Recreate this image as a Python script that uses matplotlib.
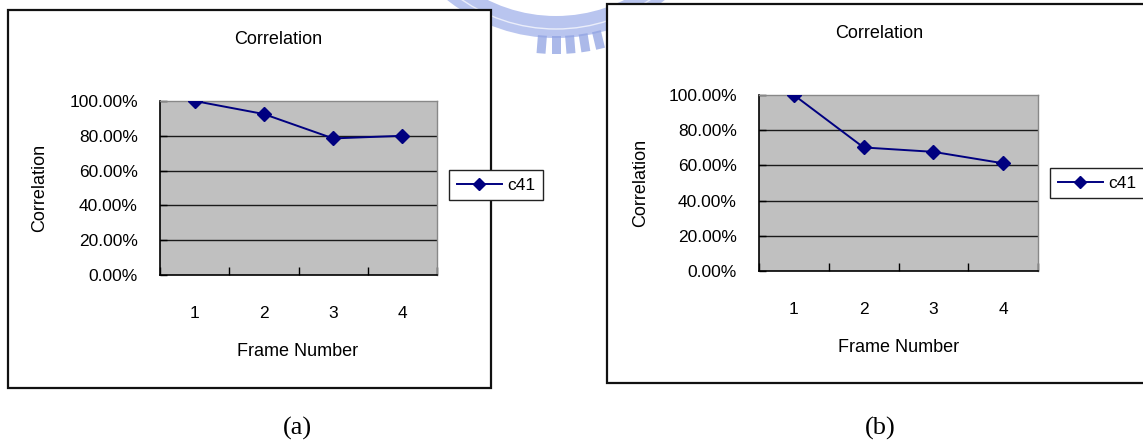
import numpy as np
import matplotlib
matplotlib.use("Agg")
import matplotlib.pyplot as plt
from matplotlib.patches import Rectangle, Wedge, Arc, Polygon
from matplotlib.ticker import FixedLocator, FuncFormatter

plt.rcParams['font.family'] = ['Liberation Sans', 'DejaVu Sans']

W, H = 1143, 443

frames = [1, 2, 3, 4]
corr_a = [1.000, 0.925, 0.785, 0.800]
corr_b = [1.000, 0.702, 0.677, 0.612]
y_ticks = [0.0, 0.2, 0.4, 0.6, 0.8, 1.0]
series_name = "c41"
navy = "#000080"


def fig_box(x0, y0, x1, y1):
    # pixel box (top-left origin) -> figure fraction rect
    return [x0 / W, 1 - y1 / H, (x1 - x0) / W, (y1 - y0) / H]


def fig_pt(x, y):
    return x / W, 1 - y / H


def draw_watermark(fig):
    # faint logo peeking out between the two charts
    bg = fig.add_axes([0, 0, 1, 1], zorder=-2)
    bg.set_xlim(0, W)
    bg.set_ylim(H, 0)
    bg.axis("off")
    blue = "#8fa2e2"
    cx, cy, r = 556, -137, 175
    bg.add_patch(Wedge((cx, cy), r, 15, 165, width=22, facecolor="#a8b7ec",
                       edgecolor="none", alpha=0.8))
    bg.add_patch(Arc((cx, cy), 2 * (r - 9), 2 * (r - 9), theta1=15, theta2=165,
                     color="white", linewidth=1.0, alpha=0.7))
    for k in [-1, 0, 1, 2, 3]:
        a = np.deg2rad(90 - 4.5 * k)
        u = np.array([np.cos(a), np.sin(a)])
        n = np.array([-u[1], u[0]])
        c0 = np.array([cx, cy]) + u * (r - 2)
        c1 = np.array([cx, cy]) + u * (r + 16)
        pts = [c0 - n * 4.5, c0 + n * 4.5, c1 + n * 4.5, c1 - n * 4.5]
        bg.add_patch(Polygon(pts, closed=True, facecolor=blue,
                             edgecolor="none", alpha=0.75))


def draw_panel(fig, values, frame, plot, title_xy, ylab_xy, xlab_xy, leg_xy, cap_xy, caption):
    # outer chart border
    x0, y0, x1, y1 = frame
    fig.patches.append(Rectangle(fig_pt(x0, y1), (x1 - x0) / W, (y1 - y0) / H,
                                 transform=fig.transFigure, facecolor="white",
                                 edgecolor="#111111", linewidth=1.6, zorder=-0.5))

    ax = fig.add_axes(fig_box(*plot))
    ax.set_facecolor("#c0c0c0")
    ax.plot(frames, values, color=navy, linewidth=1.4, marker="D",
            markersize=6.8, markerfacecolor=navy, markeredgecolor=navy,
            label=series_name, zorder=3)

    ax.set_xlim(0.5, 4.5)
    ax.set_ylim(0, 1)

    # horizontal gridlines
    for v in y_ticks[1:-1]:
        ax.axhline(v, color="#1a1a1a", linewidth=1.0, zorder=1)

    ax.set_yticks(y_ticks)
    ax.yaxis.set_major_formatter(FuncFormatter(lambda v, p: "{:.2f}%".format(v * 100)))
    ax.tick_params(axis="y", direction="in", length=5, width=1, pad=16,
                   labelsize=12.5, colors="black")

    ax.set_xticks(frames)
    ax.set_xticklabels([str(f) for f in frames])
    ax.xaxis.set_minor_locator(FixedLocator([0.5, 1.5, 2.5, 3.5, 4.5]))
    ax.tick_params(axis="x", which="major", length=0, pad=22, labelsize=12.5)
    ax.tick_params(axis="x", which="minor", direction="in", length=6, width=1)

    for side in ["left", "bottom"]:
        ax.spines[side].set_color("black")
        ax.spines[side].set_linewidth(1.2)
    for side in ["top", "right"]:
        ax.spines[side].set_color("#888888")
        ax.spines[side].set_linewidth(1.0)

    fig.text(*fig_pt(*title_xy), "Correlation", ha="center", va="center", fontsize=13)
    fig.text(*fig_pt(*ylab_xy), "Correlation", ha="center", va="center",
             fontsize=13, rotation=90)
    fig.text(*fig_pt(*xlab_xy), "Frame Number", ha="center", va="center", fontsize=13)
    fig.text(*fig_pt(*cap_xy), caption, ha="center", va="center", fontsize=19,
             family=["Liberation Serif", "DejaVu Serif"])

    leg = ax.legend(loc="center", bbox_to_anchor=fig_pt(*leg_xy),
                    bbox_transform=fig.transFigure, fontsize=12.5,
                    frameon=True, fancybox=False, shadow=False, framealpha=1,
                    edgecolor="#222222", handlelength=2.6, handletextpad=0.3,
                    borderpad=0.45, markerscale=0.9)
    leg.get_frame().set_linewidth(1.0)
    return ax


fig = plt.figure(figsize=(W / 100, H / 100), dpi=100)
fig.patch.set_facecolor("white")

draw_watermark(fig)

draw_panel(fig, corr_a,
           frame=(8, 10, 491, 388), plot=(160, 101, 437, 275),
           title_xy=(278, 40), ylab_xy=(40, 188), xlab_xy=(298, 352),
           leg_xy=(496, 185), cap_xy=(297, 428), caption="(a)")

draw_panel(fig, corr_b,
           frame=(607, 4, 1160, 383), plot=(759, 95, 1038, 271),
           title_xy=(879, 33), ylab_xy=(641, 183), xlab_xy=(899, 348),
           leg_xy=(1097, 183), cap_xy=(880, 428), caption="(b)")

fig.savefig("out.png", dpi=100)
